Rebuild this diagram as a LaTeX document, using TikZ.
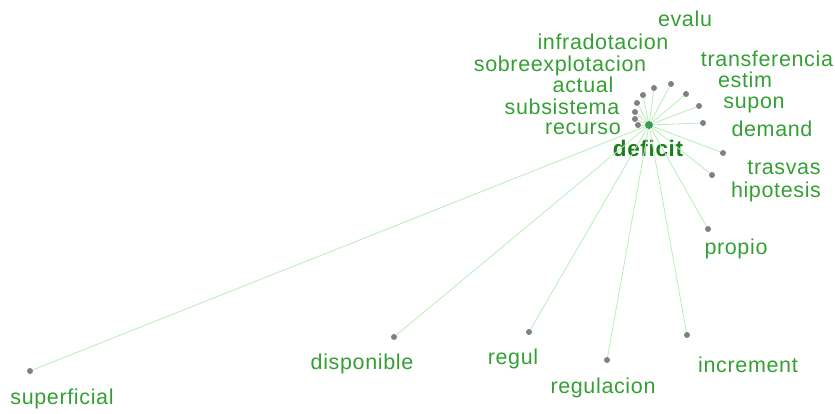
\documentclass[tikz,border=0pt]{standalone}
\usepackage{fontspec}
\setmainfont{Liberation Sans}[LetterSpace=3]
\usepackage{tikz}
\definecolor{wordGreen}{HTML}{34A034}
\definecolor{titleGreen}{HTML}{1E7E1E}
\definecolor{linkGreen}{HTML}{B8EDB8}
\definecolor{dotGray}{HTML}{808080}
\definecolor{hubGreen}{HTML}{3A9A5C}

\begin{document}
\begin{tikzpicture}[
    x=1pt, y=-1pt,
    font=\fontsize{21.5}{24}\selectfont,
    word/.style={text=wordGreen, inner sep=0pt, anchor=base},
    hub/.style={circle, fill=hubGreen, minimum size=8pt, inner sep=0pt},
    leaf/.style={circle, fill=dotGray, minimum size=6pt, inner sep=0pt},
    link/.style={draw=linkGreen, line width=0.8pt}
]
    \useasboundingbox (0,0) rectangle (835,414);

    % hub and its label
    \node[hub] (deficit) at (649,125) {};
    \node[word, text=titleGreen, font=\fontsize{22.5}{26}\selectfont\bfseries] (deficitlbl) at (648,157) {deficit};

    % leaves
    \node[leaf] (superficial) at (30,371) {};
    \node[leaf] (disponible) at (394,337) {};
    \node[leaf] (regul) at (529,332) {};
    \node[leaf] (regulacion) at (607,360) {};
    \node[leaf] (increment) at (687,335) {};
    \node[leaf] (propio) at (708,229) {};
    \node[leaf] (hipotesis) at (712,175) {};
    \node[leaf] (trasvas) at (723,153) {};
    \node[leaf] (demand) at (703,123) {};
    \node[leaf] (supon) at (699,106) {};
    \node[leaf] (estim) at (686,94) {};
    \node[leaf] (transferencia) at (671,84) {};
    \node[leaf] (evalu) at (654,88) {};
    \node[leaf] (infradotacion) at (643,95) {};
    \node[leaf] (sobreexplotacion) at (637,103) {};
    \node[leaf] (actual) at (635,112) {};
    \node[leaf] (subsistema) at (635,119) {};
    \node[leaf] (recurso) at (638,125) {};

    % words
    \node[word] (superficialtxt) at (62,404) {superficial};
    \node[word] (disponibletxt) at (362,369) {disponible};
    \node[word] (regultxt) at (513,364) {regul};
    \node[word] (regulaciontxt) at (603,393) {regulacion};
    \node[word] (incrementtxt) at (748,372) {increment};
    \node[word] (propiotxt) at (736,254) {propio};
    \node[word] (hipotesistxt) at (776,198) {hipotesis};
    \node[word] (trasvastxt) at (784,175) {trasvas};
    \node[word] (demandtxt) at (772,137) {demand};
    \node[word] (supontxt) at (754,109) {supon};
    \node[word] (estimtxt) at (745,88) {estim};
    \node[word] (transferenciatxt) at (767,67) {transferencia};
    \node[word] (evalutxt) at (685,27) {evalu};
    \node[word] (infradotaciontxt) at (603,50) {infradotacion};
    \node[word] (sobreexplotaciontxt) at (560,72) {sobreexplotacion};
    \node[word] (actualtxt) at (583,93) {actual};
    \node[word] (subsistematxt) at (562,115) {subsistema};
    \node[word] (recursotxt) at (583,135) {recurso};

    % links
    \draw[link] (deficit) -- (superficial);
    \draw[link] (deficit) -- (disponible);
    \draw[link] (deficit) -- (regul);
    \draw[link] (deficit) -- (regulacion);
    \draw[link] (deficit) -- (increment);
    \draw[link] (deficit) -- (propio);
    \draw[link] (deficit) -- (hipotesis);
    \draw[link] (deficit) -- (trasvas);
    \draw[link] (deficit) -- (demand);
    \draw[link] (deficit) -- (supon);
    \draw[link] (deficit) -- (estim);
    \draw[link] (deficit) -- (transferencia);
    \draw[link] (deficit) -- (evalu);
    \draw[link] (deficit) -- (infradotacion);
    \draw[link] (deficit) -- (sobreexplotacion);
    \draw[link] (deficit) -- (actual);
    \draw[link] (deficit) -- (subsistema);
    \draw[link] (deficit) -- (recurso);
\end{tikzpicture}
\end{document}
